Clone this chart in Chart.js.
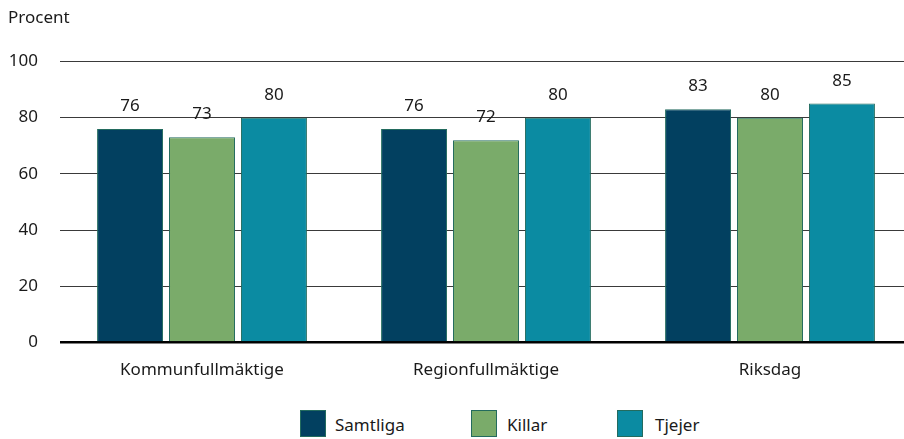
<!DOCTYPE html>
<html>
<head>
<meta charset="utf-8">
<script src="https://cdn.jsdelivr.net/npm/chart.js@4.4.1/dist/chart.umd.min.js"></script>
<style>
  html, body { margin:0; padding:0; background:#fff; overflow:hidden; }
  #wrap { position:relative; width:904px; height:439px; overflow:hidden; }
  #canvas1 { position:absolute; left:0; top:0; }
  .leg { position:absolute; top:410px; height:27px; font-family:"Noto Sans", sans-serif; font-size:17px; color:#1a1a1a; }
  .leg i { position:absolute; left:0; top:0; width:26px; height:27px; border:1px solid #236b5e; box-sizing:border-box; }
  .leg span { position:absolute; top:3px; white-space:nowrap; }
</style>
</head>
<body>
<div id="wrap">
  <canvas id="canvas1"></canvas>
  <div id="leyenda"></div>
</div>
<script>
  const categorias = ["Kommunfullmäktige", "Regionfullmäktige", "Riksdag"];
  const samtliga = [76, 76, 83];
  const killar = [73, 72, 80];
  const tjejer = [80, 80, 85];
  const series = ["Samtliga", "Killar", "Tjejer"];
  const colores = ["#024060", "#7aab6a", "#0b8ba2"];
  const yTicks = [0, 20, 40, 60, 80, 100];

  const fuente = '"Noto Sans", sans-serif';
  const texto = "#1a1a1a";

  // canvas a bit wider than window so category spacing matches (clipped)
  const cv = document.getElementById("canvas1");
  cv.width = 912; cv.height = 399;
  cv.style.width = "912px"; cv.style.height = "399px";

  // etiquetas sobre las barras
  const etiquetas = {
    id: 'etiquetas',
    afterDatasetsDraw(chart) {
      const ctx = chart.ctx;
      ctx.save();
      ctx.font = "17px " + fuente;
      ctx.fillStyle = texto;
      ctx.textAlign = "center";
      ctx.textBaseline = "alphabetic";
      chart.data.datasets.forEach(function(ds, i) {
        chart.getDatasetMeta(i).data.forEach(function(bar, j) {
          ctx.fillText(ds.data[j], bar.x, bar.y - 18);
        });
      });
      ctx.restore();
    }
  };

  const datos = [samtliga, killar, tjejer];

  var myChart = new Chart(cv, {
    type: 'bar',
    data: {
      labels: categorias,
      datasets: series.map(function(s, i) {
        return {
          label: s,
          data: datos[i],
          backgroundColor: colores[i],
          borderColor: "#236b5e",
          borderWidth: 1,
          categoryPercentage: 0.76,
          barPercentage: 0.917
        };
      })
    },
    plugins: [etiquetas],
    options: {
      responsive: false,
      animation: false,
      layout: { padding: { left: 8, right: 0, top: 0, bottom: 10 } },
      plugins: {
        legend: { display: false },
        tooltip: { enabled: false },
        title: {
          display: true,
          text: "Procent",
          align: "start",
          color: texto,
          font: { family: fuente, size: 17, weight: "normal" },
          padding: { top: 8, bottom: 33 }
        }
      },
      scales: {
        x: {
          grid: { display: false },
          border: { display: false },
          ticks: { color: texto, font: { family: fuente, size: 17 }, padding: 9 }
        },
        y: {
          min: 0,
          max: 100,
          afterFit: function(scale) { scale.width = 52; },
          afterBuildTicks: function(scale) { scale.ticks = yTicks.map(function(v) { return { value: v }; }); },
          border: { display: false },
          grid: {
            drawTicks: false,
            color: function(c) { return c.tick && c.tick.value === 0 ? "#000" : "#3a3a3a"; },
            lineWidth: function(c) { return c.tick && c.tick.value === 0 ? 2.5 : 1; }
          },
          ticks: { color: texto, font: { family: fuente, size: 17 }, padding: 22 }
        }
      }
    }
  });

  // leyenda
  const posLeyenda = [300, 471, 617];
  const posTexto = [35, 36, 38];
  var cad = "";
  for (var i = 0; i < series.length; i++) {
    cad += "<div class='leg' style='left:" + posLeyenda[i] + "px'>";
    cad += "<i style='background:" + colores[i] + "'></i>";
    cad += "<span style='left:" + posTexto[i] + "px'>" + series[i] + "</span></div>";
  }
  document.getElementById("leyenda").innerHTML = cad;
</script>
</body>
</html>
